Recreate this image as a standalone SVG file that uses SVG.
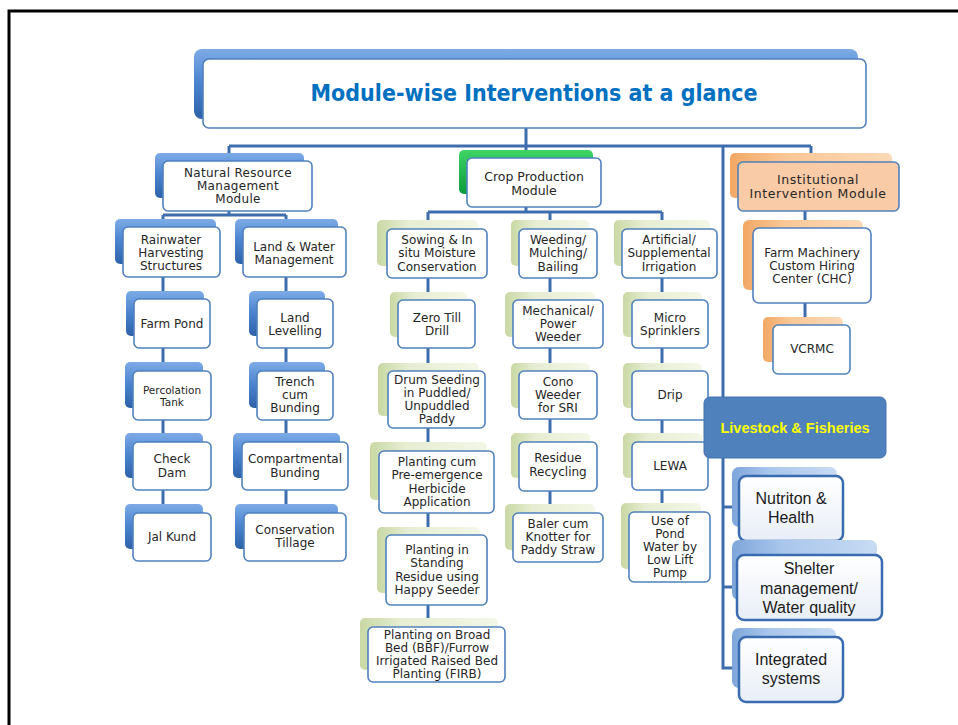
<svg xmlns="http://www.w3.org/2000/svg" width="958" height="725" viewBox="0 0 958 725">
<style>
.bg{fill:#ffffff}
.frame{fill:none;stroke:#000;stroke-width:3}
.conn{fill:none;stroke:#3E6DAE;stroke-width:3}
.box{fill:#ffffff;stroke:#4F81BD;stroke-width:1.6}
.bb{fill:url(#gBlue)}
.bg2{fill:url(#gPale)}
.bo{fill:url(#gPeach)}
.bl{fill:url(#gLight)}
.t{font-family:"DejaVu Sans",Verdana,sans-serif;font-size:12px;fill:#262626;text-anchor:middle;dominant-baseline:central}
.tl{font-family:"Liberation Sans",Arial,sans-serif;font-size:16px;fill:#1a1a1a;text-anchor:middle;dominant-baseline:central}
.lbox{fill:url(#gWhite);stroke:#3A6BB0;stroke-width:2.5}
</style>
<defs>
<linearGradient id="gBlue" x1="0" y1="0" x2="0" y2="1"><stop offset="0" stop-color="#7DABE6"/><stop offset="0.5" stop-color="#4A82CE"/><stop offset="1" stop-color="#2D62A8"/></linearGradient>
<linearGradient id="gGreen" x1="0" y1="0" x2="0" y2="1"><stop offset="0" stop-color="#3FD466"/><stop offset="1" stop-color="#0B9A3A"/></linearGradient>
<linearGradient id="gPale" x1="0" y1="0" x2="1" y2="0"><stop offset="0" stop-color="#C9D8A4"/><stop offset="0.3" stop-color="#E6EDD2"/><stop offset="1" stop-color="#F3F7E7"/></linearGradient>
<linearGradient id="gPeach" x1="0" y1="0" x2="1" y2="0"><stop offset="0" stop-color="#F2A865"/><stop offset="0.35" stop-color="#FAC797"/><stop offset="1" stop-color="#FCD9B6"/></linearGradient>
<linearGradient id="gLight" x1="0" y1="0" x2="1" y2="0"><stop offset="0" stop-color="#7EA6DA"/><stop offset="0.35" stop-color="#A9C6EC"/><stop offset="1" stop-color="#C7DBF3"/></linearGradient>
<linearGradient id="gWhite" x1="0" y1="0" x2="0" y2="1"><stop offset="0" stop-color="#FFFFFF"/><stop offset="1" stop-color="#E8EEF7"/></linearGradient>
</defs>
<rect class="bg" x="0" y="0" width="958" height="725"/>
<path class="frame" d="M9 730 V11 H965"/>

<g id="connectors">
<path class="conn" d="M526 128 V158 M229 146 H811 M229 146 V161 M811 146 V160"/>
<path class="conn" d="M723 146 V668 H739 M723 507 H739 M723 587 H737"/>
<path class="conn" d="M229 211 V215 M163 215 H286 M163 215 V227 M286 215 V227 M163 277 V513 M286 277 V513"/>
<path class="conn" d="M526 207 V212 M428 212 H662 M428 212 V229 M550 212 V229 M662 212 V229 M428 278 V627 M550 278 V513 M662 278 V512"/>
<path class="conn" d="M805 211 V228 M805 303 V325"/>
</g>

<g id="title">
<rect x="194" y="49" width="664" height="70" rx="8" fill="url(#gBlue)"/>
<rect class="box" x="203" y="59" width="663" height="69" rx="6"/>
<text x="534" y="93" font-family="'DejaVu Sans Condensed','DejaVu Sans',sans-serif" font-weight="bold" font-size="23" fill="#0070C0" text-anchor="middle" dominant-baseline="central" textLength="447" lengthAdjust="spacingAndGlyphs">Module-wise Interventions at a glance</text>
</g>

<g id="nrm">
<rect class="bb" x="155" y="153" width="149" height="45" rx="5"/>
<rect class="box" x="163" y="161" width="149" height="50" rx="5"/>
<text class="t" style="letter-spacing:0.3px" x="238" y="173">Natural Resource</text>
<text class="t" style="letter-spacing:0.3px" x="238" y="186">Management</text>
<text class="t" style="letter-spacing:0.3px" x="238" y="199">Module</text>
</g>
<g id="rainwater">
<rect class="bb" x="115" y="219" width="101" height="45" rx="5"/>
<rect class="box" x="123" y="227" width="97" height="50" rx="5"/>
<text class="t" x="171" y="240">Rainwater</text><text class="t" x="171" y="253">Harvesting</text><text class="t" x="171" y="266">Structures</text>
</g>
<g id="landwater">
<rect class="bb" x="235" y="219" width="103" height="45" rx="5"/>
<rect class="box" x="243" y="227" width="103" height="50" rx="5"/>
<text class="t" x="294" y="247">Land &amp; Water</text><text class="t" x="294" y="260">Management</text>
</g>
<g id="farmpond">
<rect class="bb" x="126" y="291" width="78" height="45" rx="5"/>
<rect class="box" x="134" y="299" width="76" height="49" rx="5"/>
<text class="t" x="172" y="324">Farm Pond</text>
</g>
<g id="landlevelling">
<rect class="bb" x="249" y="291" width="76" height="45" rx="5"/>
<rect class="box" x="257" y="299" width="76" height="49" rx="5"/>
<text class="t" x="295" y="318">Land</text><text class="t" x="295" y="331">Levelling</text>
</g>
<g id="percolation">
<rect class="bb" x="125" y="362" width="78" height="46" rx="5"/>
<rect class="box" x="133" y="371" width="78" height="49" rx="5"/>
<text class="t" style="font-size:10.5px" x="172" y="390">Percolation</text><text class="t" style="font-size:10.5px" x="172" y="402">Tank</text>
</g>
<g id="trench">
<rect class="bb" x="249" y="362" width="76" height="46" rx="5"/>
<rect class="box" x="257" y="371" width="76" height="49" rx="5"/>
<text class="t" x="295" y="382">Trench</text><text class="t" x="295" y="395">cum</text><text class="t" x="295" y="408">Bunding</text>
</g>
<g id="checkdam">
<rect class="bb" x="125" y="433" width="78" height="45" rx="5"/>
<rect class="box" x="133" y="442" width="78" height="48" rx="5"/>
<text class="t" x="172" y="459">Check</text><text class="t" x="172" y="473">Dam</text>
</g>
<g id="compartmental">
<rect class="bb" x="233" y="433" width="107" height="45" rx="5"/>
<rect class="box" x="242" y="442" width="106" height="48" rx="5"/>
<text class="t" x="295" y="459">Compartmental</text><text class="t" x="295" y="473">Bunding</text>
</g>
<g id="jalkund">
<rect class="bb" x="125" y="504" width="78" height="45" rx="5"/>
<rect class="box" x="133" y="513" width="78" height="48" rx="5"/>
<text class="t" x="172" y="537">Jal Kund</text>
</g>
<g id="conservationtillage">
<rect class="bb" x="235" y="504" width="103" height="45" rx="5"/>
<rect class="box" x="244" y="513" width="102" height="48" rx="5"/>
<text class="t" x="295" y="530">Conservation</text><text class="t" x="295" y="543">Tillage</text>
</g>

<g id="crop">
<rect x="459" y="150" width="134" height="44" rx="5" fill="url(#gGreen)"/>
<rect class="box" x="467" y="158" width="134" height="49" rx="5"/>
<text class="t" style="font-size:12.5px" x="534" y="176">Crop Production</text>
<text class="t" style="font-size:12.5px" x="534" y="190">Module</text>
</g>
<g id="sowing">
<rect class="bg2" x="377" y="220" width="101" height="46" rx="5"/>
<rect class="box" x="387" y="229" width="100" height="49" rx="5"/>
<text class="t" x="437" y="240">Sowing &amp; In</text><text class="t" x="437" y="253">situ Moisture</text><text class="t" x="437" y="267">Conservation</text>
</g>
<g id="weeding">
<rect class="bg2" x="511" y="220" width="78" height="46" rx="5"/>
<rect class="box" x="519" y="229" width="78" height="49" rx="5"/>
<text class="t" x="558" y="240">Weeding/</text><text class="t" x="558" y="253">Mulching/</text><text class="t" x="558" y="267">Bailing</text>
</g>
<g id="artificial">
<rect class="bg2" x="614" y="220" width="96" height="46" rx="5"/>
<rect class="box" x="622" y="229" width="95" height="49" rx="5"/>
<text class="t" x="669" y="240">Artificial/</text><text class="t" x="669" y="253">Supplemental</text><text class="t" x="669" y="267">Irrigation</text>
</g>
<g id="zerotill">
<rect class="bg2" x="390" y="292" width="77" height="45" rx="5"/>
<rect class="box" x="398" y="300" width="77" height="48" rx="5"/>
<text class="t" x="437" y="318">Zero Till</text><text class="t" x="437" y="331">Drill</text>
</g>
<g id="mechanical">
<rect class="bg2" x="505" y="292" width="90" height="45" rx="5"/>
<rect class="box" x="513" y="300" width="90" height="48" rx="5"/>
<text class="t" x="558" y="311">Mechanical/</text><text class="t" x="558" y="324">Power</text><text class="t" x="558" y="337">Weeder</text>
</g>
<g id="micro">
<rect class="bg2" x="623" y="292" width="79" height="45" rx="5"/>
<rect class="box" x="632" y="300" width="76" height="48" rx="5"/>
<text class="t" x="670" y="318">Micro</text><text class="t" x="670" y="331">Sprinklers</text>
</g>
<g id="drum">
<rect class="bg2" x="378" y="363" width="101" height="53" rx="5"/>
<rect class="box" x="388" y="371" width="97" height="57" rx="5"/>
<text class="t" x="437" y="380">Drum Seeding</text><text class="t" x="437" y="393">in Puddled/</text><text class="t" x="437" y="406">Unpuddled</text><text class="t" x="437" y="419">Paddy</text>
</g>
<g id="cono">
<rect class="bg2" x="511" y="363" width="79" height="45" rx="5"/>
<rect class="box" x="519" y="371" width="78" height="48" rx="5"/>
<text class="t" x="558" y="382">Cono</text><text class="t" x="558" y="395">Weeder</text><text class="t" x="558" y="408">for SRI</text>
</g>
<g id="drip">
<rect class="bg2" x="623" y="363" width="79" height="45" rx="5"/>
<rect class="box" x="632" y="371" width="76" height="49" rx="5"/>
<text class="t" x="670" y="395">Drip</text>
</g>
<g id="plantingcum">
<rect class="bg2" x="370" y="442" width="117" height="58" rx="5"/>
<rect class="box" x="379" y="451" width="115" height="62" rx="5"/>
<text class="t" x="437" y="462">Planting cum</text><text class="t" x="437" y="475">Pre-emergence</text><text class="t" x="437" y="489">Herbicide</text><text class="t" x="437" y="502">Application</text>
</g>
<g id="residue">
<rect class="bg2" x="511" y="433" width="79" height="45" rx="5"/>
<rect class="box" x="519" y="442" width="78" height="49" rx="5"/>
<text class="t" x="558" y="458">Residue</text><text class="t" x="558" y="472">Recycling</text>
</g>
<g id="lewa">
<rect class="bg2" x="623" y="433" width="79" height="45" rx="5"/>
<rect class="box" x="632" y="442" width="76" height="48" rx="5"/>
<text class="t" x="670" y="466">LEWA</text>
</g>
<g id="happyseeder">
<rect class="bg2" x="377" y="527" width="103" height="66" rx="5"/>
<rect class="box" x="386" y="535" width="101" height="70" rx="5"/>
<text class="t" x="437" y="550">Planting in</text><text class="t" x="437" y="563">Standing</text><text class="t" x="437" y="577">Residue using</text><text class="t" x="437" y="590">Happy Seeder</text>
</g>
<g id="baler">
<rect class="bg2" x="505" y="504" width="90" height="46" rx="5"/>
<rect class="box" x="513" y="513" width="90" height="49" rx="5"/>
<text class="t" x="558" y="524">Baler cum</text><text class="t" x="558" y="537">Knotter for</text><text class="t" x="558" y="550">Paddy Straw</text>
</g>
<g id="pondwater">
<rect class="bg2" x="621" y="503" width="80" height="66" rx="5"/>
<rect class="box" x="629" y="512" width="81" height="70" rx="5"/>
<text class="t" x="670" y="521">Use of</text><text class="t" x="670" y="534">Pond</text><text class="t" x="670" y="547">Water by</text><text class="t" x="670" y="560">Low Lift</text><text class="t" x="670" y="573">Pump</text>
</g>
<g id="broadbed">
<rect class="bg2" x="360" y="618" width="138" height="52" rx="5"/>
<rect class="box" x="368" y="627" width="137" height="55" rx="5"/>
<text class="t" x="437" y="635">Planting on Broad</text><text class="t" x="437" y="648">Bed (BBF)/Furrow</text><text class="t" x="437" y="661">Irrigated Raised Bed</text><text class="t" x="437" y="674">Planting (FIRB)</text>
</g>

<g id="institutional">
<rect class="bo" x="730" y="153" width="162" height="45" rx="5"/>
<rect x="738" y="162" width="161" height="49" rx="5" fill="#F9CBA7" stroke="#4F81BD" stroke-width="1.6"/>
<text class="t" style="font-size:12.5px;letter-spacing:0.6px" x="818" y="179.5">Institutional</text>
<text class="t" style="font-size:12.5px;letter-spacing:0.6px" x="818" y="193.5">Intervention Module</text>
</g>
<g id="farmmachinery">
<rect class="bo" x="743" y="220" width="120" height="70" rx="6"/>
<rect class="box" x="753" y="228" width="118" height="75" rx="6"/>
<text class="t" x="812" y="253">Farm Machinery</text><text class="t" x="812" y="266">Custom Hiring</text><text class="t" x="812" y="279">Center (CHC)</text>
</g>
<g id="vcrmc">
<rect class="bo" x="763" y="317" width="80" height="45" rx="5"/>
<rect class="box" x="773" y="325" width="77" height="49" rx="5"/>
<text class="t" x="812" y="349">VCRMC</text>
</g>

<g id="livestock">
<rect x="704" y="397" width="182" height="61" rx="6" fill="#4F81BD" stroke="#4472B0" stroke-width="1"/>
<text x="795" y="428" font-family="'Liberation Sans',Arial,sans-serif" font-weight="bold" font-size="14.5" fill="#FFFF00" text-anchor="middle" dominant-baseline="central">Livestock &amp; Fisheries</text>
</g>
<g id="nutrition">
<rect class="bl" x="732" y="467" width="105" height="60" rx="7"/>
<rect class="lbox" x="739" y="476" width="104" height="65" rx="7"/>
<text class="tl" x="791" y="498">Nutriton &amp;</text><text class="tl" x="791" y="517">Health</text>
</g>
<g id="shelter">
<rect class="bl" x="732" y="540" width="145" height="60" rx="7"/>
<rect class="lbox" x="737" y="555" width="145" height="65" rx="7"/>
<text class="tl" x="809" y="568">Shelter</text><text class="tl" x="809" y="588">management/</text><text class="tl" x="809" y="607">Water quality</text>
</g>
<g id="integrated">
<rect class="bl" x="732" y="628" width="104" height="60" rx="7"/>
<rect class="lbox" x="739" y="637" width="104" height="65" rx="7"/>
<text class="tl" x="791" y="659">Integrated</text><text class="tl" x="791" y="678">systems</text>
</g>
</svg>
